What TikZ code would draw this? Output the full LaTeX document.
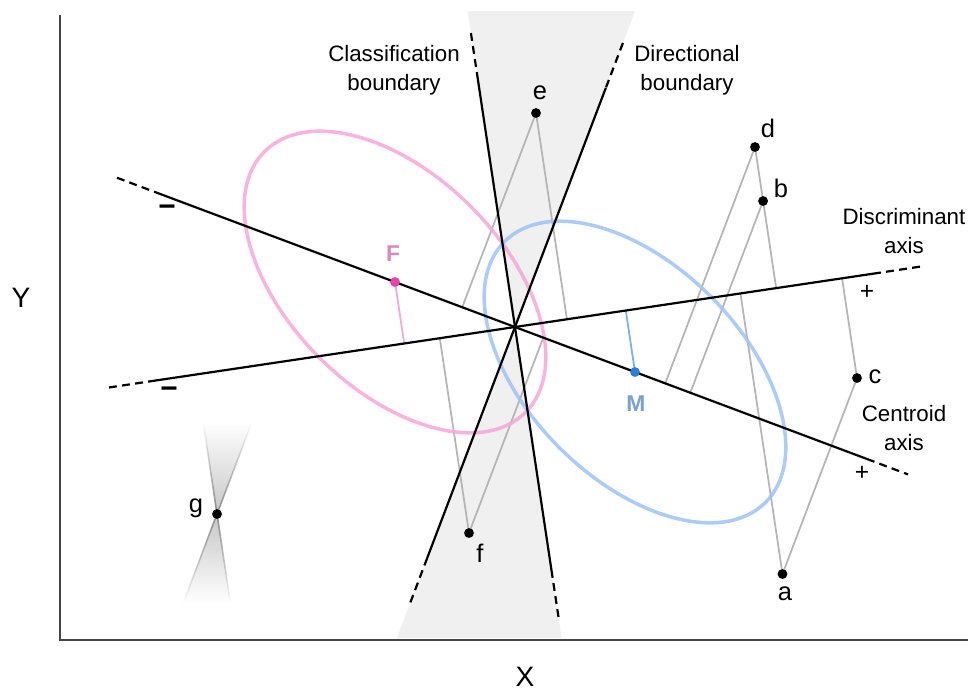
\documentclass[tikz,border=0pt]{standalone}
\usepackage{fontspec}
\setmainfont{Liberation Sans}
\usetikzlibrary{calc,fadings}
\definecolor{pinkE}{HTML}{F7A6D9}
\definecolor{blueE}{HTML}{9DC3F7}
\definecolor{pinkDot}{HTML}{F03FA8}
\definecolor{blueDot}{HTML}{2A7DE1}
\definecolor{pinkTxt}{HTML}{D58CBB}
\definecolor{blueTxt}{HTML}{7A9FD0}
\definecolor{projGray}{HTML}{B5B5B5}
\definecolor{zoneGray}{HTML}{F0F0F0}
\definecolor{frameGray}{HTML}{444444}
\tikzfading[name=fadeup, top color=transparent!100, bottom color=transparent!0]
\tikzfading[name=fadedown, top color=transparent!0, bottom color=transparent!100]
\begin{document}
\begin{tikzpicture}[x=0.02cm, y=-0.02cm,
  axisline/.style={black, line width=1.25pt},
  dashpart/.style={black, line width=1.25pt, dash pattern=on 4.5pt off 3pt},
  proj/.style={projGray, line width=1pt},
  ptdot/.style={circle, fill=black, inner sep=0pt, minimum size=5.6pt},
  ptlbl/.style={font=\fontsize{14.5}{17}\selectfont, inner sep=0pt},
  axlbl/.style={font=\fontsize{16}{19}\selectfont, inner sep=0pt},
  ttl/.style={font=\fontsize{12.7}{16.4}\selectfont, align=center, inner sep=0pt},
  plussign/.style={font=\fontsize{14}{16}\selectfont, inner sep=0pt},
  minussign/.style={font=\bfseries\fontsize{17}{19}\selectfont, inner sep=0pt},
  ell/.style={line width=2pt, opacity=0.85}]
\useasboundingbox (0,0) rectangle (968,691);

% ---- key coordinates
\coordinate (O) at (515,327);
% discriminant axis
\coordinate (Dl) at (109,387.5);
\coordinate (Ds) at (155,380.6);
\coordinate (De) at (873,273.7);
\coordinate (Dr) at (923,266.2);
% centroid axis
\coordinate (Cl) at (117,177.75);
\coordinate (Cs) at (160,193.9);
\coordinate (Ce) at (867,459);
\coordinate (Cr) at (908,474.4);
% classification boundary
\coordinate (Kt) at (470.9,33);
\coordinate (Ks) at (477.95,80);
\coordinate (Ke) at (551.45,570);
\coordinate (Kb) at (558.65,618);
% directional boundary
\coordinate (Rt) at (622.9,43);
\coordinate (Rs) at (605.8,88);
\coordinate (Re) at (427.2,558);
\coordinate (Rb) at (409.4,605);
% zone corners
\coordinate (Z1) at (467.6,11);
\coordinate (Z2) at (635.1,11);
\coordinate (Z3) at (396.8,638);
\coordinate (Z4) at (561.65,638);
% frame
\coordinate (Ftop) at (60,15);
\coordinate (Forg) at (60,640);
\coordinate (Fright) at (968,640);

% ---- points
\coordinate (pe) at (536,113);
\coordinate (pd) at (755,147);
\coordinate (pb) at (763.1,201);
\coordinate (pc) at (857,378);
\coordinate (pa) at (782.5,574);
\coordinate (pf) at (469,533);
\coordinate (pg) at (217,514);
\coordinate (pF) at (395,282);
\coordinate (pM) at (635,372);

% helpers along boundary directions
\foreach \p in {e,d,b,c,a,f,F,M}{
  \coordinate (k\p) at ($(p\p)+(15,100)$);
  \coordinate (r\p) at ($(p\p)+(-38,100)$);
}
% projections
\coordinate (eC) at (intersection of pe--re and Cl--Cr);
\coordinate (eD) at (intersection of pe--ke and Dl--Dr);
\coordinate (dC) at (intersection of pd--rd and Cl--Cr);
\coordinate (dD) at (intersection of pd--kd and Dl--Dr);
\coordinate (bC) at (intersection of pb--rb and Cl--Cr);
\coordinate (cD) at (intersection of pc--kc and Dl--Dr);
\coordinate (aD) at (intersection of pa--ka and Dl--Dr);
\coordinate (fC) at (intersection of pf--rf and Cl--Cr);
\coordinate (fD) at (intersection of pf--kf and Dl--Dr);
\coordinate (FD) at (intersection of pF--kF and Dl--Dr);
\coordinate (MD) at (intersection of pM--kM and Dl--Dr);

% ---- shaded disagreement zone
\fill[zoneGray] (Z1) -- (Z2) -- (O) -- cycle;
\fill[zoneGray] (Z3) -- (Z4) -- (O) -- cycle;

% ---- small hourglass at g
\coordinate (g1) at (203.2,422);
\coordinate (g2) at (252,422);
\coordinate (g3) at (183.2,603);
\coordinate (g4) at (230.4,603);
\fill[gray!45, path fading=fadeup] (g1) -- (pg) -- (g2) -- cycle;
\draw[gray!90, line width=0.9pt, path fading=fadeup] (g1) -- (pg) -- (g2);
\fill[gray!45, path fading=fadedown] (g3) -- (pg) -- (g4) -- cycle;
\draw[gray!90, line width=0.9pt, path fading=fadedown] (g3) -- (pg) -- (g4);

% ---- frame
\draw[frameGray, line width=1.1pt] (Ftop) -- (Forg) -- (Fright);

% ---- projection lines
\draw[proj] (pe) -- (eC);
\draw[proj] (pe) -- (eD);
\draw[proj] (pd) -- (dC);
\draw[proj] (pd) -- (dD);
\draw[proj] (pb) -- (bC);
\draw[proj] (pc) -- (cD);
\draw[proj] (pa) -- (pc);
\draw[proj] (pa) -- (aD);
\draw[proj] (pf) -- (fC);
\draw[proj] (pf) -- (fD);
\draw[pinkE, line width=1pt] (pF) -- (FD);
\draw[blueE!70!blueDot, line width=1pt] (pM) -- (MD);

% ---- ellipses
\draw[pinkE, ell, rotate around={-45:(pF)}] (pF) ellipse [x radius=3.69cm, y radius=2.14cm];
\draw[blueE, ell, rotate around={-45:(pM)}] (pM) ellipse [x radius=3.69cm, y radius=2.14cm];

% ---- axes and boundaries
\draw[dashpart] (Dl) -- (Ds);
\draw[axisline] (Ds) -- (De);
\draw[dashpart] (De) -- (Dr);
\draw[dashpart] (Cl) -- (Cs);
\draw[axisline] (Cs) -- (Ce);
\draw[dashpart] (Ce) -- (Cr);
\draw[dashpart] (Kt) -- (Ks);
\draw[axisline] (Ks) -- (Ke);
\draw[dashpart] (Ke) -- (Kb);
\draw[dashpart] (Rt) -- (Rs);
\draw[axisline] (Rs) -- (Re);
\draw[dashpart] (Re) -- (Rb);

% ---- dots
\foreach \p in {e,d,b,c,a,f,g}{ \node[ptdot] (\p) at (p\p) {}; }
\node[ptdot, fill=pinkDot] (F) at (pF) {};
\node[ptdot, fill=blueDot] (M) at (pM) {};

% ---- labels
\node[ptlbl] (le) at (540,93) {e};
\node[ptlbl] (ld) at (768,128) {d};
\node[ptlbl] (lb) at (781,188) {b};
\node[ptlbl] (lc) at (875,377) {c};
\node[ptlbl] (la) at (785,594) {a};
\node[ptlbl] (lf) at (480,553) {f};
\node[ptlbl] (lg) at (196,508) {g};
\node[font=\bfseries\fontsize{13}{15}\selectfont, text=pinkTxt, inner sep=0pt] (lF) at (393,254) {F};
\node[font=\bfseries\fontsize{13}{15}\selectfont, text=blueTxt, inner sep=0pt] (lM) at (636,404) {M};

\node[ttl] (tK) at (394,70) {Classification\\boundary};
\node[ttl] (tR) at (687,70) {Directional\\boundary};
\node[ttl] (tD) at (904,231) {Discriminant\\axis};
\node[ttl] (tC) at (904,428) {Centroid\\axis};

\node[plussign] (s1) at (867,292) {+};
\node[plussign] (s2) at (862,473) {+};
\node[minussign] (s3) at (167,211) {−};
\node[minussign] (s4) at (169,393) {−};

\node[axlbl] (lY) at (21,298) {Y};
\node[axlbl] (lX) at (525,677) {X};
\end{tikzpicture}
\end{document}
